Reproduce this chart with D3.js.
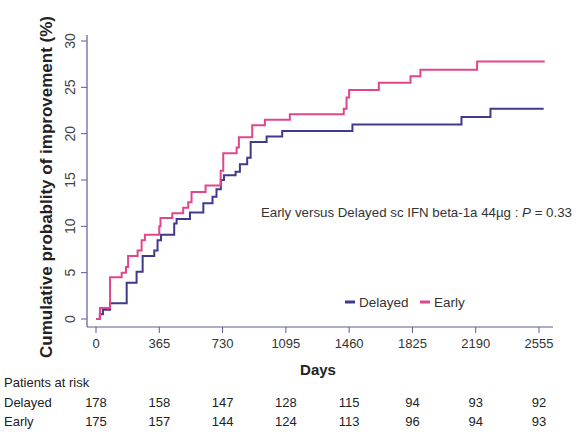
<!DOCTYPE html>
<html>
<head>
<meta charset="utf-8">
<script src="https://cdn.jsdelivr.net/npm/d3@7"></script>
<style>
  body { margin: 0; background: #fff; }
  text { font-family: "Liberation Sans", Arial, sans-serif; }
</style>
</head>
<body>
<div id="chart"></div>
<script>
// Kaplan-Meier style step data (days, cumulative %)
const delayedDays = [0, 22, 40, 81, 177, 234, 269, 336, 355, 375, 451, 465, 542, 619, 672, 695, 720, 738, 805, 830, 872, 892, 984, 1074, 1479, 2108, 2275, 2582];
const delayedPct  = [0, 0.5, 1.0, 1.7, 3.9, 5.1, 6.8, 7.4, 8.5, 9.1, 10.3, 10.8, 11.5, 12.5, 13.2, 14.0, 15.0, 15.5, 15.9, 16.7, 17.4, 19.1, 19.7, 20.3, 21.0, 21.8, 22.7, 22.7];

const earlyDays = [0, 23, 81, 148, 173, 185, 240, 263, 282, 365, 372, 440, 503, 532, 551, 632, 719, 734, 811, 824, 901, 974, 1118, 1429, 1445, 1460, 1631, 1814, 1871, 2198, 2588];
const earlyPct  = [0, 1.2, 4.5, 5.0, 5.6, 6.8, 7.4, 8.5, 9.1, 10.0, 10.9, 11.4, 12.0, 12.6, 13.7, 14.4, 16.0, 17.9, 18.5, 19.6, 20.9, 21.5, 22.1, 22.7, 23.9, 24.7, 25.5, 26.2, 26.9, 27.8, 27.8];

const xTicks = [0, 365, 730, 1095, 1460, 1825, 2190, 2555];
const yTicks = [0, 5, 10, 15, 20, 25, 30];
const riskDelayed = [178, 158, 147, 128, 115, 94, 93, 92];
const riskEarly   = [175, 157, 144, 124, 113, 96, 94, 93];

const W = 576, H = 432;
const axisColor = "#5b5a98";
const delayedColor = "#3f3a8c";
const earlyColor = "#e1458a";

const svg = d3.select("#chart").append("svg")
  .attr("width", W)
  .attr("height", H);

const x = d3.scaleLinear().domain([0, 2555]).range([96, 539]);
const y = d3.scaleLinear().domain([0, 30]).range([319, 41]);

// Axes frame (L-shaped)
svg.append("line")
  .attr("x1", 87).attr("x2", 87)
  .attr("y1", 35).attr("y2", 327)
  .attr("stroke", axisColor).attr("stroke-width", 1.2);
svg.append("line")
  .attr("x1", 87).attr("x2", 553)
  .attr("y1", 327).attr("y2", 327)
  .attr("stroke", axisColor).attr("stroke-width", 1.2);

// Y ticks + rotated labels
yTicks.forEach(t => {
  svg.append("line")
    .attr("x1", 81).attr("x2", 87)
    .attr("y1", y(t)).attr("y2", y(t))
    .attr("stroke", axisColor).attr("stroke-width", 1);
  svg.append("text")
    .attr("transform", `translate(75,${y(t)}) rotate(-90)`)
    .attr("text-anchor", "middle")
    .attr("font-size", 14)
    .attr("fill", "#444")
    .text(t);
});

// X ticks + labels
xTicks.forEach(t => {
  svg.append("line")
    .attr("x1", x(t)).attr("x2", x(t))
    .attr("y1", 327).attr("y2", 333)
    .attr("stroke", axisColor).attr("stroke-width", 1);
  svg.append("text")
    .attr("x", x(t)).attr("y", 348)
    .attr("text-anchor", "middle")
    .attr("font-size", 13)
    .attr("fill", "#333")
    .text(t);
});

// Axis titles
svg.append("text")
  .attr("x", 318).attr("y", 375)
  .attr("text-anchor", "middle")
  .attr("font-size", 15)
  .attr("font-weight", "bold")
  .attr("fill", "#222")
  .text("Days");

svg.append("text")
  .attr("transform", "translate(52,187) rotate(-90)")
  .attr("text-anchor", "middle")
  .attr("font-size", 17)
  .attr("font-weight", "bold")
  .attr("fill", "#222")
  .text("Cumulative probablity of improvement (%)");

// Step curves
const line = d3.line()
  .x(d => x(d[0]))
  .y(d => y(d[1]))
  .curve(d3.curveStepAfter);

svg.append("path")
  .datum(d3.zip(delayedDays, delayedPct))
  .attr("d", line)
  .attr("fill", "none")
  .attr("stroke", delayedColor)
  .attr("stroke-width", 2);

svg.append("path")
  .datum(d3.zip(earlyDays, earlyPct))
  .attr("d", line)
  .attr("fill", "none")
  .attr("stroke", earlyColor)
  .attr("stroke-width", 2);

// Annotation
const note = svg.append("text")
  .attr("x", 572).attr("y", 217)
  .attr("text-anchor", "end")
  .attr("font-size", 13.3)
  .attr("fill", "#333");
note.append("tspan").text("Early versus Delayed sc IFN beta-1a 44\u00b5g : ");
note.append("tspan").attr("font-style", "italic").text("P");
note.append("tspan").text(" = 0.33");

// Legend
const legend = [
  { label: "Delayed", color: delayedColor, x: 345 },
  { label: "Early", color: earlyColor, x: 420 }
];
legend.forEach(l => {
  svg.append("line")
    .attr("x1", l.x).attr("x2", l.x + 10)
    .attr("y1", 302).attr("y2", 302)
    .attr("stroke", l.color).attr("stroke-width", 3);
  svg.append("text")
    .attr("x", l.x + 14).attr("y", 307)
    .attr("font-size", 13.5)
    .attr("fill", "#333")
    .text(l.label);
});

// Patients at risk table
svg.append("text")
  .attr("x", 4).attr("y", 387)
  .attr("font-size", 13)
  .attr("fill", "#222")
  .text("Patients at risk");

[["Delayed", riskDelayed, 407], ["Early", riskEarly, 426]].forEach(([name, vals, ry]) => {
  svg.append("text")
    .attr("x", 4).attr("y", ry)
    .attr("font-size", 13)
    .attr("fill", "#222")
    .text(name);
  vals.forEach((v, i) => {
    svg.append("text")
      .attr("x", x(xTicks[i])).attr("y", ry)
      .attr("text-anchor", "middle")
      .attr("font-size", 13)
      .attr("fill", "#222")
      .text(v);
  });
});
</script>
</body>
</html>
